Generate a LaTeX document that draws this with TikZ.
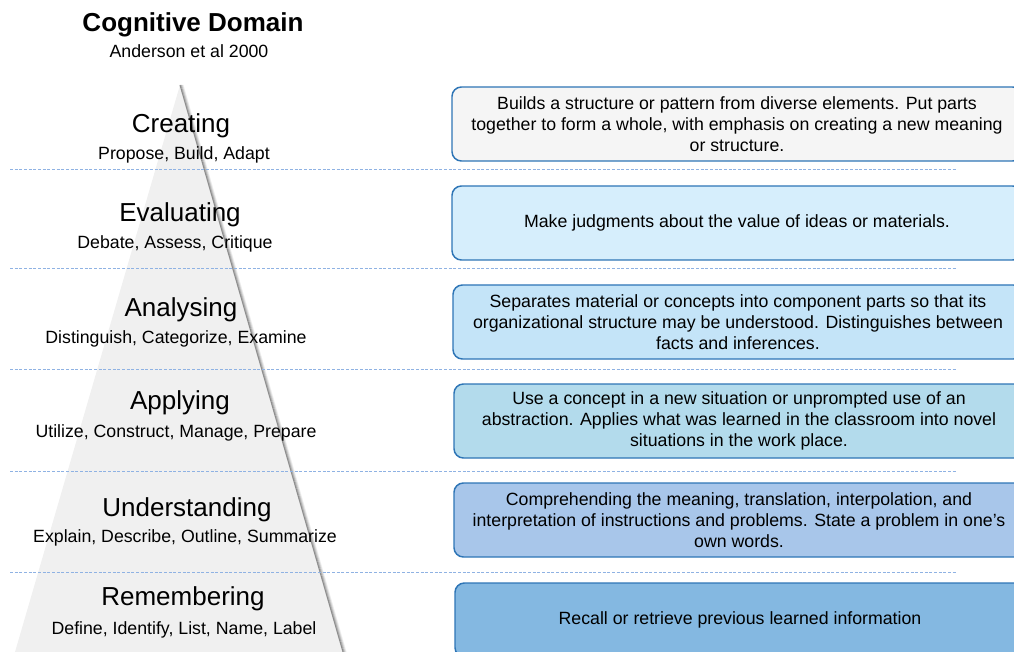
\documentclass[tikz,border=0pt]{standalone}
\usepackage{fontspec}
\setmainfont{Liberation Sans}
\usetikzlibrary{positioning}
\definecolor{boxline}{HTML}{2E75B6}
\definecolor{sepblue}{HTML}{8FB2E3}
\definecolor{pyrfill}{HTML}{F0F0F0}
\definecolor{fillA}{HTML}{F5F5F5}
\definecolor{fillB}{HTML}{D6EEFC}
\definecolor{fillC}{HTML}{C4E4F8}
\definecolor{fillD}{HTML}{B3DBEC}
\definecolor{fillE}{HTML}{A8C6EA}
\definecolor{fillF}{HTML}{84B8E1}
\tikzset{level/.style = {font=\fontsize{19.5}{23}\selectfont, inner sep=0}}
\tikzset{verbs/.style = {font=\fontsize{13.3}{16}\selectfont, inner sep=0}}
\tikzset{descr/.style = {draw=boxline, line width=1.1pt, rounded corners=7pt,
                         minimum width=427.5pt, minimum height=55.5pt, inner sep=0,
                         align=center, font=\fontsize{13.3}{16}\selectfont}}
\tikzset{sep/.style = {draw=sepblue, dash pattern=on 2.2pt off 1.3pt, line width=0.6pt}}

\begin{document}
\begin{tikzpicture}[x=0.75pt, y=-0.75pt]
      \useasboundingbox (0, 0) rectangle (1014, 652);
      \clip (0, 0) rectangle (1014, 652);

      \fill [pyrfill] (180, 85) -- (15, 652) -- (343, 652) -- cycle;
      \foreach \d/\o in {0/0.4, 1/0.28, 2/0.16, 3/0.07}
        \draw [black, opacity=\o, line width=0.8pt] (180+\d, 85) -- (343+\d, 652);

      \foreach \y in {169, 268, 369, 471, 572}
        \draw [sep] (10, \y) -- (957, \y);

      \node [level, font=\fontsize{19.5}{23}\selectfont\bfseries] (title) at (193, 25) {Cognitive Domain};
      \node [verbs] (source) at (189, 51) {Anderson et al 2000};

      \node [level] (create) at (181, 126) {Creating};
      \node [verbs] (createv) at (184, 155) {Propose, Build, Adapt};
      \node [level] (evaluate) at (180, 215) {Evaluating};
      \node [verbs] (evaluatev) at (175, 244) {Debate, Assess, Critique};
      \node [level] (analyse) at (181, 310) {Analysing};
      \node [verbs] (analysev) at (176, 339) {Distinguish, Categorize, Examine};
      \node [level] (apply) at (180, 403) {Applying};
      \node [verbs] (applyv) at (176, 433) {Utilize, Construct, Manage, Prepare};
      \node [level] (understand) at (187, 510) {Understanding};
      \node [verbs] (understandv) at (185, 538) {Explain, Describe, Outline, Summarize};
      \node [level] (remember) at (183, 599) {Remembering};
      \node [verbs] (rememberv) at (184, 630) {Define, Identify, List, Name, Label};

      \node [descr, fill=fillA] (createbox) at (737, 124)
        {Builds a structure or pattern from diverse elements. Put parts\\together to form a whole, with emphasis on creating a new meaning\\or structure.};
      \node [descr, fill=fillB] (evaluatebox) at (737, 223)
        {Make judgments about the value of ideas or materials.};
      \node [descr, fill=fillC] (analysebox) at (738, 322)
        {Separates material or concepts into component parts so that its\\organizational structure may be understood. Distinguishes between\\facts and inferences.};
      \node [descr, fill=fillD] (applybox) at (739, 421)
        {Use a concept in a new situation or unprompted use of an\\abstraction. Applies what was learned in the classroom into novel\\situations in the work place.};
      \node [descr, fill=fillE] (understandbox) at (739, 520)
        {Comprehending the meaning, translation, interpolation, and\\interpretation of instructions and problems. State a problem in one's\\own words.};
      \node [descr, fill=fillF] (rememberbox) at (740, 620)
        {Recall or retrieve previous learned information};
    \end{tikzpicture}
\end{document}
